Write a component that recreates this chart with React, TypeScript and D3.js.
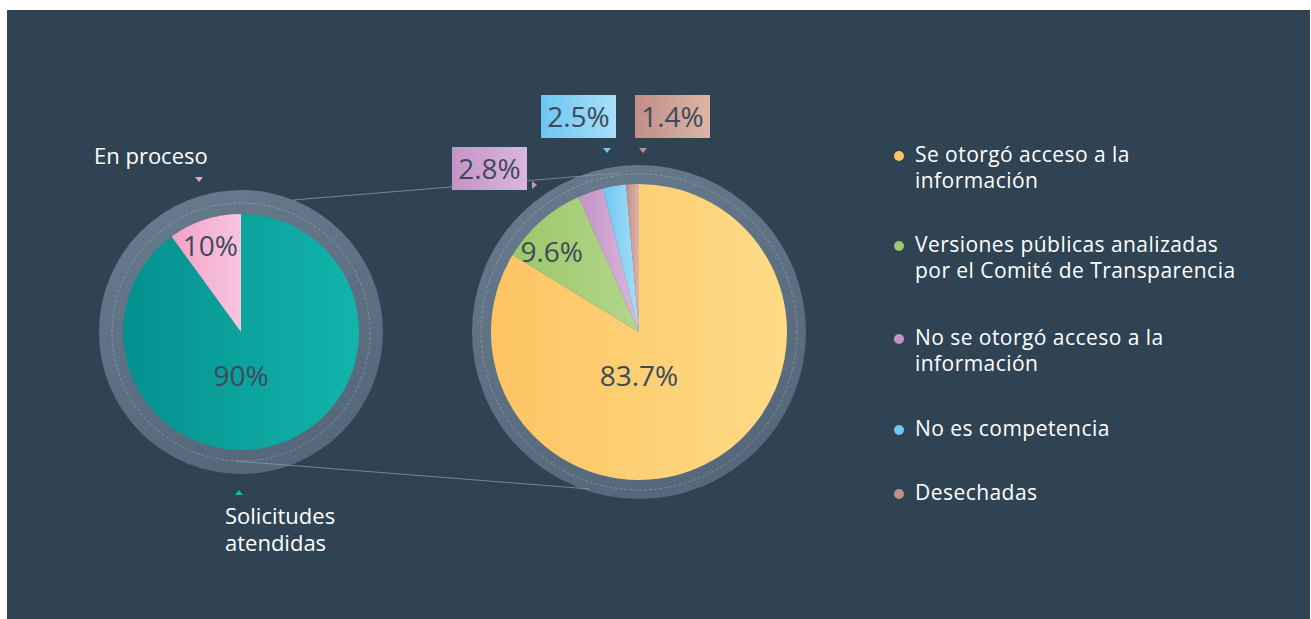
import React from 'react';
import * as d3 from 'd3';

// left pie: solicitudes
const leftNames = ['Solicitudes atendidas', 'En proceso'];
const leftValues = [90, 10];
const leftColors = [['#04908e', '#12b5ab'], ['#f2a2c6', '#f8c6de']];

// right pie: breakdown of atendidas
const rightNames = [
  'Se otorgó acceso a la información',
  'Versiones públicas analizadas por el Comité de Transparencia',
  'No se otorgó acceso a la información',
  'No es competencia',
  'Desechadas',
];
const rightValues = [83.7, 9.6, 2.8, 2.5, 1.4];
const rightColors = [
  ['#fdc462', '#fedb86'],
  ['#9bc86a', '#b3d68b'],
  ['#c693c6', '#dab7da'],
  ['#6cc7f2', '#a9def6'],
  ['#c18e87', '#dcb5a6'],
];
const legendLines = [
  ['Se otorgó acceso a la', 'información'],
  ['Versiones públicas analizadas', 'por el Comité de Transparencia'],
  ['No se otorgó acceso a la', 'información'],
  ['No es competencia'],
  ['Desechadas'],
];

const W = 1311;
const H = 619;
const bg = '#2f4353';
const textDark = '#3d4a5b';
const font = '"Open Sans", "Noto Sans", sans-serif';

const left = { cx: 241, cy: 332, r: 118, ring: 142, dash: 129 };
const right = { cx: 639, cy: 332, r: 148, ring: 167, dash: 158 };

const pie = d3.pie<number>().sort(null).value(d => d);

function fmt(v: number) {
  return Number.isInteger(v) ? `${v}%` : `${v.toFixed(1)}%`;
}

function Ring({ c, id }: { c: typeof left; id: string }) {
  return (
    <g>
      <circle cx={c.cx} cy={c.cy} r={c.ring} fill={`url(#${id})`} />
      <circle cx={c.cx} cy={c.cy} r={c.dash} fill="none" stroke="#ffffff" strokeOpacity={0.28}
        strokeWidth={0.8} strokeDasharray="3 2" />
    </g>
  );
}

export default function App() {
  const leftArcs = pie(leftValues);
  const rightArcs = pie(rightValues);
  const leftArc = d3.arc<d3.PieArcDatum<number>>().innerRadius(0).outerRadius(left.r);
  const rightArc = d3.arc<d3.PieArcDatum<number>>().innerRadius(0).outerRadius(right.r);

  // inner label offsets from the pie centre, as fractions of the radius
  const leftInner = [[0, 0.37], [-0.26, -0.73]];
  const rightInner = [[0, 0.3], [-0.59, -0.54]];

  // boxed labels for the small slices (index, box left, box top, pointer)
  const boxes = [
    { i: 2, x: 452, y: 147, px: 535, py: 185, dir: 'right' },
    { i: 3, x: 541, y: 95, px: 607, py: 151, dir: 'down' },
    { i: 4, x: 635, y: 95, px: 643, py: 151, dir: 'down' },
  ];

  const tri = (x: number, y: number, dir: string) => {
    if (dir === 'down') return `M${x - 4},${y - 3}L${x + 4},${y - 3}L${x},${y + 2}Z`;
    if (dir === 'up') return `M${x - 4},${y + 3}L${x + 4},${y + 3}L${x},${y - 2}Z`;
    return `M${x - 3},${y - 4}L${x - 3},${y + 4}L${x + 2},${y}Z`;
  };

  const legendY = [156, 246, 339, 430, 494];

  return (
    <svg width={W} height={H} style={{ position: 'absolute', left: 0, top: 0 }} fontFamily={font}>
      <defs>
        <linearGradient id="ringL" x1="0" y1="0" x2="0.4" y2="1">
          <stop offset="0" stopColor="#687c8e" />
          <stop offset="1" stopColor="#56697b" />
        </linearGradient>
        <linearGradient id="ringR" x1="0" y1="0" x2="0.4" y2="1">
          <stop offset="0" stopColor="#687c8e" />
          <stop offset="1" stopColor="#56697b" />
        </linearGradient>
        {leftColors.map((c, i) => (
          <linearGradient key={i} id={`lg${i}`} x1="0" y1="0" x2="1" y2="0">
            <stop offset="0" stopColor={c[0]} />
            <stop offset="1" stopColor={c[1]} />
          </linearGradient>
        ))}
        {rightColors.map((c, i) => (
          <linearGradient key={i} id={`rg${i}`} x1="0" y1="0" x2="1" y2="0">
            <stop offset="0" stopColor={c[0]} />
            <stop offset="1" stopColor={c[1]} />
          </linearGradient>
        ))}
      </defs>

      <rect x={7} y={10} width={W - 8} height={H - 10} fill={bg} />

      <Ring c={left} id="ringL" />
      <Ring c={right} id="ringR" />

      {/* connector lines */}
      <line x1={293} y1={200} x2={620} y2={173} stroke="#8799a8" strokeWidth={0.8} />
      <line x1={235} y1={461} x2={590} y2={489} stroke="#8799a8" strokeWidth={0.8} />

      <g transform={`translate(${left.cx},${left.cy})`}>
        {leftArcs.map((a, i) => (
          <path key={i} d={leftArc(a) || ''} fill={`url(#lg${i})`} />
        ))}
        {leftArcs.map((a, i) => (
          <text key={i} x={leftInner[i][0] * left.r} y={leftInner[i][1] * left.r} dy="0.36em"
            textAnchor="middle" fontSize={28} fill={textDark}>{fmt(leftValues[i])}</text>
        ))}
      </g>

      <g transform={`translate(${right.cx},${right.cy})`}>
        {rightArcs.map((a, i) => (
          <path key={i} d={rightArc(a) || ''} fill={`url(#rg${i})`} />
        ))}
        {rightArcs.slice(0, 2).map((a, i) => (
          <text key={i} x={rightInner[i][0] * right.r} y={rightInner[i][1] * right.r} dy="0.36em"
            textAnchor="middle" fontSize={28} fill={textDark}>{fmt(rightValues[i])}</text>
        ))}
      </g>

      {boxes.map(b => (
        <g key={b.i}>
          <rect x={b.x} y={b.y} width={75} height={43} fill={`url(#rg${b.i})`} />
          <text x={b.x + 37.5} y={b.y + 21.5} dy="0.36em" textAnchor="middle" fontSize={28} fill={textDark}>
            {fmt(rightValues[b.i])}
          </text>
          <path d={tri(b.px, b.py, b.dir)} fill={rightColors[b.i][0]} />
        </g>
      ))}

      {/* left pie outer labels */}
      <text x={94} y={164} fontSize={22} fill="#ffffff">{leftNames[1]}</text>
      <path d={tri(199, 180, 'down')} fill={leftColors[1][0]} />
      <text x={225} y={524} fontSize={22} fill="#ffffff">
        <tspan x={225}>Solicitudes</tspan>
        <tspan x={225} dy={27}>atendidas</tspan>
      </text>
      <path d={tri(239, 492, 'up')} fill={leftColors[0][1]} />

      {/* legend */}
      {rightNames.map((n, i) => (
        <g key={n}>
          <circle cx={899} cy={legendY[i]} r={5} fill={rightColors[i][0]} />
          {legendLines[i].map((l, j) => (
            <text key={j} x={915} y={legendY[i] + 6 + j * 26} fontSize={21} letterSpacing={0.45}
              fill="#ffffff">{l}</text>
          ))}
        </g>
      ))}
    </svg>
  );
}
